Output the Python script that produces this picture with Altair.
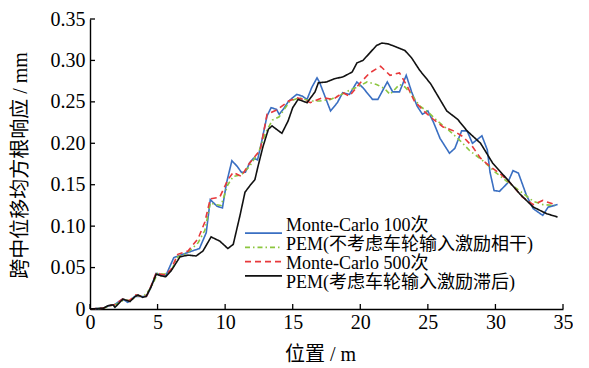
import altair as alt
import pandas as pd

# ---- data ----
names = ["Monte-Carlo 100次", "PEM(不考虑车轮输入激励相干)", "Monte-Carlo 500次", "PEM(考虑车轮输入激励滞后)"]

x_mc100 = [0, 1.0, 1.4, 1.8, 2.4, 2.8, 3.3, 3.9, 4.2, 4.5, 4.9, 5.25, 5.6, 6.2, 7.2, 8.1, 8.6, 8.9, 9.4, 9.8,
           10.1, 10.5, 10.9, 11.2, 11.5, 11.8, 12.1, 12.4, 12.7, 13.1, 13.4, 13.8, 14.0, 14.3, 14.7, 15.3, 15.7,
           16.06, 16.4, 16.8, 17.0, 17.8, 18.3, 18.7, 19.2, 19.75, 20.2, 20.9, 21.3, 22.0, 22.4, 22.9, 23.4, 23.8,
           24.2, 24.6, 25.0, 25.4, 25.9, 26.6, 27.0, 27.5, 27.9, 28.3, 29.0, 29.4, 29.6, 29.9, 30.3, 30.9, 31.3,
           31.7, 32.3, 32.8, 33.5, 33.9, 34.6]
y_mc100 = [0, 0.001, 0.004, 0.005, 0.012, 0.008, 0.015, 0.015, 0.016, 0.026, 0.043, 0.041, 0.040, 0.062, 0.068,
           0.073, 0.092, 0.132, 0.124, 0.122, 0.152, 0.179, 0.172, 0.165, 0.165, 0.176, 0.182, 0.180, 0.202, 0.233,
           0.243, 0.241, 0.235, 0.241, 0.251, 0.259, 0.257, 0.253, 0.267, 0.279, 0.273, 0.239, 0.249, 0.261, 0.259,
           0.274, 0.267, 0.253, 0.253, 0.274, 0.262, 0.262, 0.282, 0.262, 0.245, 0.235, 0.239, 0.226, 0.206, 0.188,
           0.194, 0.215, 0.215, 0.200, 0.209, 0.192, 0.165, 0.143, 0.142, 0.152, 0.167, 0.164, 0.137, 0.121, 0.113,
           0.123, 0.126]

x_pem_nc = [0, 1.0, 1.5, 2.0, 2.5, 3.0, 3.5, 4.0, 4.5, 5.0, 5.5, 6.0, 6.5, 7.0, 7.5, 8.0, 8.5, 8.9, 9.3, 9.7,
            10.2, 10.6, 11.2, 11.8, 12.5, 13.0, 13.5, 14.0, 14.8, 15.5, 16.3, 17.0, 17.8, 18.5, 19.2, 19.8, 20.5,
            21.2, 21.8, 22.2, 22.9, 23.3, 23.7, 24.4, 25.0, 25.7, 26.6, 27.4, 28.1, 29.0, 30.0, 31.0, 32.0, 32.8,
            33.5, 34.4]
y_pem_nc = [0, 0.001, 0.004, 0.006, 0.011, 0.010, 0.016, 0.016, 0.025, 0.043, 0.042, 0.046, 0.063, 0.066, 0.072,
            0.080, 0.095, 0.128, 0.126, 0.125, 0.150, 0.160, 0.162, 0.172, 0.190, 0.213, 0.228, 0.232, 0.251, 0.255,
            0.251, 0.251, 0.253, 0.258, 0.264, 0.268, 0.274, 0.271, 0.266, 0.259, 0.271, 0.268, 0.261, 0.245, 0.238,
            0.227, 0.215, 0.203, 0.191, 0.180, 0.165, 0.152, 0.140, 0.130, 0.126, 0.125]

x_mc500 = [0, 1.0, 1.4, 1.8, 2.4, 2.9, 3.4, 3.9, 4.2, 4.5, 4.9, 5.25, 5.6, 6.0, 6.5, 7.25, 8.0, 8.5, 8.9, 9.6,
           10.2, 10.6, 11.2, 11.8, 12.6, 13.1, 13.9, 14.7, 15.3, 15.8, 16.3, 17.2, 18.0, 18.7, 19.2, 20.0, 20.7,
           21.5, 22.2, 22.9, 23.5, 24.0, 24.7, 25.4, 26.1, 26.9, 27.6, 28.3, 28.9, 29.6, 30.3, 31.1, 32.0, 32.8,
           33.5, 34.4]
y_mc500 = [0, 0.001, 0.004, 0.005, 0.012, 0.010, 0.017, 0.015, 0.016, 0.027, 0.044, 0.042, 0.041, 0.048, 0.066,
           0.070, 0.085, 0.105, 0.133, 0.135, 0.156, 0.165, 0.160, 0.176, 0.192, 0.235, 0.241, 0.251, 0.255, 0.253,
           0.249, 0.255, 0.253, 0.261, 0.257, 0.273, 0.285, 0.293, 0.282, 0.285, 0.268, 0.251, 0.239, 0.229, 0.220,
           0.215, 0.208, 0.196, 0.182, 0.172, 0.164, 0.152, 0.135, 0.126, 0.131, 0.126]

x_pem_lag = [0, 1.0, 1.33, 1.7, 1.85, 2.44, 2.96, 3.33, 3.55, 3.9, 4.15, 4.5, 4.9, 5.25, 5.6, 6.0, 6.66, 7.25,
             7.85, 8.36, 8.96, 9.6, 10.2, 10.6, 11.1, 11.47, 11.84, 12.2, 12.43, 12.8, 13.2, 13.47, 14.2, 14.66,
             15.0, 15.4, 16.06, 16.65, 16.9, 17.5, 18.1, 18.7, 19.4, 19.75, 20.2, 20.7, 21.2, 21.6, 22.05, 22.7,
             23.3, 23.8, 24.4, 25.2, 26.4, 27.2, 27.9, 28.9, 29.8, 30.9, 31.8, 32.8, 33.8, 34.6]
y_pem_lag = [0, 0.001, 0.004, 0.005, 0.002, 0.012, 0.009, 0.015, 0.017, 0.014, 0.015, 0.026, 0.042, 0.040, 0.039,
             0.046, 0.063, 0.065, 0.064, 0.070, 0.087, 0.082, 0.073, 0.078, 0.113, 0.141, 0.149, 0.156, 0.172,
             0.196, 0.217, 0.221, 0.212, 0.227, 0.243, 0.253, 0.249, 0.262, 0.273, 0.274, 0.278, 0.280, 0.286,
             0.297, 0.300, 0.309, 0.318, 0.321, 0.320, 0.316, 0.312, 0.303, 0.288, 0.272, 0.239, 0.229, 0.215,
             0.200, 0.176, 0.156, 0.139, 0.123, 0.115, 0.111]

x_ticks = [0, 5, 10, 15, 20, 25, 30, 35]
y_ticks = [0, 0.05, 0.10, 0.15, 0.20, 0.25, 0.30, 0.35]

colors = ["#3a6fc2", "#8cc63f", "#e8383b", "#111111"]
dashes = [[1, 0], [5, 3, 1.5, 3], [6, 4], [1, 0]]

# ---- build tables ----
rows = []
for name, xs, ys in [(names[0], x_mc100, y_mc100), (names[1], x_pem_nc, y_pem_nc),
                     (names[2], x_mc500, y_mc500), (names[3], x_pem_lag, y_pem_lag)]:
    for xv, yv in zip(xs, ys):
        rows.append({"x": xv, "y": yv, "series": name})
df = pd.DataFrame(rows)
leg_df = pd.DataFrame({"series": names})

FONT = "Liberation Serif, Noto Sans CJK SC"
W, H = 473, 290
xscale = alt.Scale(domain=[0, 35], nice=False)
yscale = alt.Scale(domain=[0, 0.35], nice=False)
cscale = alt.Scale(domain=names, range=colors)
dscale = alt.Scale(domain=names, range=dashes)

x_axis = alt.Axis(values=x_ticks, title="位置 / m", ticks=False, labelPadding=3,
                  labelFlush=False, titleX=230, titleY=45, titleAlign="center",
                  titleBaseline="middle")
y_axis = alt.Axis(values=y_ticks, title="跨中位移均方根响应 / mm", ticks=False,
                  labelPadding=5, labelFlush=False,
                  labelExpr="datum.value == 0 ? '0' : format(datum.value, '.2f')",
                  titleX=-70, titleY=146, titleAngle=270, titleAlign="center",
                  titleBaseline="middle")

lines = alt.Chart(df).mark_line(strokeWidth=1.6).encode(
    x=alt.X("x:Q", scale=xscale, axis=x_axis),
    y=alt.Y("y:Q", scale=yscale, axis=y_axis),
    color=alt.Color("series:N", scale=cscale, legend=None),
    strokeDash=alt.StrokeDash("series:N", scale=dscale, legend=None),
)

ytick = alt.Chart(pd.DataFrame({"v": y_ticks})).mark_rule(color="black", strokeWidth=1.3).encode(
    y=alt.Y("v:Q", scale=yscale, axis=None),
    x=alt.value(0), x2=alt.value(5),
)
xtick = alt.Chart(pd.DataFrame({"v": x_ticks})).mark_rule(color="black", strokeWidth=1.3).encode(
    x=alt.X("v:Q", scale=xscale, axis=x_axis),
    y=alt.value(H), y2=alt.value(H - 5),
)

# legend rows: point scale placing the four entries 19 px apart
leg_y = alt.Y("series:N", scale=alt.Scale(domain=names, range=[207, 264], padding=0), axis=None)
leg_lines = alt.Chart(leg_df).mark_rule(strokeWidth=1.6).encode(
    x=alt.value(155), x2=alt.value(192), y=leg_y,
    color=alt.Color("series:N", scale=cscale, legend=None),
    strokeDash=alt.StrokeDash("series:N", scale=dscale, legend=None),
)
leg_text = alt.Chart(leg_df).mark_text(align="left", baseline="middle", font=FONT, fontSize=18,
                                       color="black").encode(
    x=alt.value(196), y=leg_y, text="series:N",
)

chart = alt.layer(lines, ytick, xtick, leg_lines, leg_text).resolve_scale(y="independent").properties(
    width=W, height=H,
    autosize=alt.AutoSizeParams(type="none"),
    padding={"left": 82, "top": 11, "right": 10, "bottom": 59},
    background="white",
).configure_view(stroke=None).configure_axis(
    grid=False, domainColor="black", domainWidth=1.4,
    labelFont=FONT, labelFontSize=20, labelColor="black",
    titleFont=FONT, titleFontSize=20, titleFontWeight="normal", titleColor="black",
)

chart.save("out.html", embed_options={"renderer": "svg", "actions": False})
